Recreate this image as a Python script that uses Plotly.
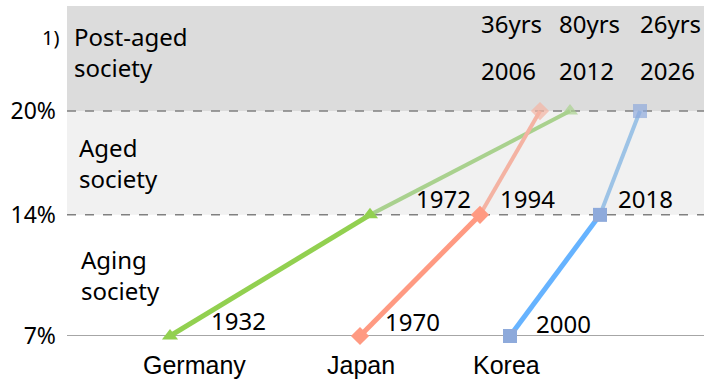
import plotly.graph_objects as go

# ---- data ----
countries = ["Germany", "Japan", "Korea"]
year_aging = [1932, 1970, 2000]      # reached 7%
year_aged = [1972, 1994, 2018]       # reached 14%
year_postaged = [2012, 2006, 2026]   # reached 20%
thresholds = [7, 14, 20]
tick_text = ["7%", "14%", "20%"]
stage_labels = ["Aging<br>society", "Aged<br>society", "Post-aged<br>society"]

symbols = ["triangle-up", "diamond", "square"]
color_low = ["#92d050", "#ff9a82", "#66b3ff"]
color_high = ["#a9d18e", "#f4b3a3", "#9dc3e6"]
marker_low = ["#92d050", "#ff9a82", "#8eaadb"]
marker_high = ["#a9d18e", "#f4b3a3", "#8eaadb"]

W, H = 704, 381
L, R, T, B = 67, 0, 6, 45
PW, PH = W - L - R, H - T - B
YMIN, YMAX = 7, 26.07
XMIN, XMAX = 1911.4, 2038.8

def px(x):
    return (x - L) / PW

def py(y):
    return (H - B - y) / PH

FONT = "Noto Sans, Open Sans, sans-serif"
fig = go.Figure()

# bands
fig.add_shape(type="rect", xref="paper", yref="y", x0=0, x1=1, y0=thresholds[2], y1=YMAX,
              fillcolor="#dcdcdc", line_width=0, layer="below")
fig.add_shape(type="rect", xref="paper", yref="y", x0=0, x1=1, y0=thresholds[1], y1=thresholds[2],
              fillcolor="#f1f1f1", line_width=0, layer="below")
for t in thresholds[1:]:
    fig.add_shape(type="line", xref="paper", yref="y", x0=0, x1=1, y0=t, y1=t,
                  line=dict(color="#808080", width=1.5, dash="dash"), layer="below")
fig.add_shape(type="line", xref="paper", yref="y", x0=0, x1=1, y0=thresholds[0], y1=thresholds[0],
              line=dict(color="#a6a6a6", width=2), layer="below")

for i, c in enumerate(countries):
    fig.add_trace(go.Scatter(
        x=[year_aged[i], year_postaged[i]], y=[thresholds[1], thresholds[2]],
        mode="lines+markers", cliponaxis=False, showlegend=False,
        line=dict(color=color_high[i], width=4),
        marker=dict(symbol=symbols[i], size=[0, 14], color=marker_high[i], line_width=0)))
for i, c in enumerate(countries):
    fig.add_trace(go.Scatter(
        x=[year_aging[i], year_aged[i]], y=[thresholds[0], thresholds[1]],
        mode="lines+markers", cliponaxis=False, showlegend=False,
        line=dict(color=color_low[i], width=5),
        marker=dict(symbol=symbols[i], size=14, color=marker_low[i], line_width=0)))

ann = []
TF = dict(family=FONT, size=24, color="#000000")

# year labels near points
shifts_low = [(39, 16), (23, 15), (24, 13)]
shifts_mid = [(44, 16), (18, 16), (16, 16)]
for i in range(3):
    ann.append(dict(x=year_aging[i], y=thresholds[0], xref="x", yref="y", text=str(year_aging[i]),
                    showarrow=False, xanchor="left", yanchor="middle",
                    xshift=shifts_low[i][0], yshift=shifts_low[i][1], font=TF))
    ann.append(dict(x=year_aged[i], y=thresholds[1], xref="x", yref="y", text=str(year_aged[i]),
                    showarrow=False, xanchor="left", yanchor="middle",
                    xshift=shifts_mid[i][0], yshift=shifts_mid[i][1], font=TF))

# top row: years to post-aged and durations, ordered by post-aged year
order = sorted(range(3), key=lambda k: year_postaged[k])
top_x = [508, 586, 667]
for j, k in enumerate(order):
    ann.append(dict(x=px(top_x[j]), y=py(70), xref="paper", yref="paper", text=str(year_postaged[k]),
                    showarrow=False, xanchor="center", yanchor="middle", font=TF))
    ann.append(dict(x=px(top_x[j] + 3), y=py(23), xref="paper", yref="paper",
                    text=f"{year_postaged[k] - year_aging[k]}yrs",
                    showarrow=False, xanchor="center", yanchor="middle", font=TF))

# stage labels
stage_pos = [(79, 275), (77, 163), (72, 52)]
for s, (xx, yy) in zip(stage_labels, stage_pos):
    ann.append(dict(x=px(xx), y=py(yy), xref="paper", yref="paper", text=s, align="left",
                    showarrow=False, xanchor="left", yanchor="middle", font=TF))
ann.append(dict(x=px(61), y=py(37), xref="paper", yref="paper", text="1)",
                showarrow=False, xanchor="right", yanchor="middle",
                font=dict(family=FONT, size=20, color="#000000")))

# country labels
country_x = [194, 361, 506]
for cname, xx in zip(countries, country_x):
    ann.append(dict(x=px(xx), y=py(365), xref="paper", yref="paper", text=cname,
                    showarrow=False, xanchor="center", yanchor="middle",
                    font=dict(family="Liberation Sans, Arial, sans-serif", size=25, color="#000000")))

fig.update_layout(
    width=W, height=H, margin=dict(l=L, r=R, t=T, b=B, pad=0),
    paper_bgcolor="white", plot_bgcolor="white",
    annotations=ann,
    xaxis=dict(range=[XMIN, XMAX], visible=False, showgrid=False, zeroline=False),
    yaxis=dict(range=[YMIN, YMAX], tickvals=thresholds, ticktext=tick_text, showgrid=False,
               zeroline=False, showline=False, ticks="", ticklabelstandoff=10,
               tickfont=dict(family=FONT, size=23, color="#000000")),
)
fig.write_html("out.html", config={"displayModeBar": False},
               post_script="document.body.style.margin='0';")
